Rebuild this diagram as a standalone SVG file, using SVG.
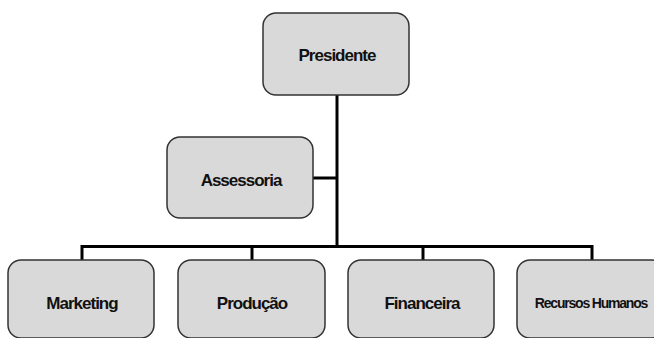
<svg xmlns="http://www.w3.org/2000/svg" width="654" height="338" viewBox="0 0 654 338">
<style>
.box{fill:#d9d9d9;stroke:#333;stroke-width:1.5}
.lbl{font-family:"Liberation Sans",Arial,sans-serif;font-weight:bold;font-size:17px;letter-spacing:-1px;fill:#111;text-anchor:middle}
.con{stroke:#000;stroke-width:3;fill:none}
</style>
<rect width="654" height="338" fill="#fff"/>
<g id="connectors">
<line class="con" x1="337" y1="95" x2="337" y2="247"/>
<line class="con" x1="313" y1="178" x2="337" y2="178"/>
<polyline class="con" points="82,260 82,246.5 592,246.5 592,260"/>
<line class="con" x1="252" y1="246" x2="252" y2="260"/>
<line class="con" x1="423" y1="246" x2="423" y2="260"/>
</g>
<g id="presidente"><rect class="box" x="263" y="13" width="146" height="82" rx="13"/><text class="lbl" x="337" y="61">Presidente</text></g>
<g id="assessoria"><rect class="box" x="167" y="137" width="146" height="81" rx="13"/><text class="lbl" x="241" y="186">Assessoria</text></g>
<g id="marketing"><rect class="box" x="8" y="260" width="146" height="78" rx="13"/><text class="lbl" x="82" y="309">Marketing</text></g>
<g id="producao"><rect class="box" x="178" y="260" width="147" height="78" rx="13"/><text class="lbl" x="252" y="309">Produção</text></g>
<g id="financeira"><rect class="box" x="348" y="260" width="146" height="78" rx="13"/><text class="lbl" x="422" y="309">Financeira</text></g>
<g id="recursos"><rect class="box" x="517" y="260" width="148" height="78" rx="13"/><text class="lbl" x="591" y="308" style="font-size:14px;letter-spacing:-1.2px">Recursos Humanos</text></g>
</svg>
